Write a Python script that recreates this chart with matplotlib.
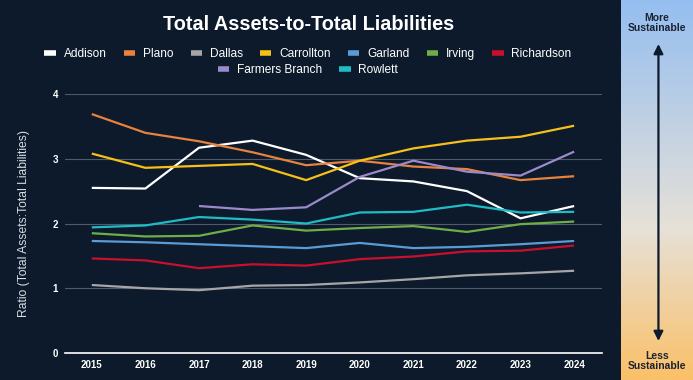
import numpy as np
import matplotlib.pyplot as plt
from matplotlib.colors import LinearSegmentedColormap

# data
years = [2015, 2016, 2017, 2018, 2019, 2020, 2021, 2022, 2023, 2024]

addison = [2.55, 2.54, 3.17, 3.28, 3.06, 2.70, 2.65, 2.50, 2.08, 2.27]
plano = [3.69, 3.40, 3.27, 3.10, 2.90, 2.97, 2.88, 2.84, 2.67, 2.73]
dallas = [1.05, 1.00, 0.97, 1.04, 1.05, 1.09, 1.14, 1.20, 1.23, 1.27]
carrollton = [3.08, 2.86, 2.89, 2.92, 2.67, 2.97, 3.16, 3.28, 3.34, 3.51]
garland = [1.73, 1.71, 1.68, 1.65, 1.62, 1.70, 1.62, 1.64, 1.68, 1.73]
irving = [1.85, 1.80, 1.81, 1.97, 1.89, 1.93, 1.96, 1.87, 1.99, 2.03]
richardson = [1.46, 1.43, 1.31, 1.37, 1.35, 1.45, 1.49, 1.57, 1.58, 1.66]
farmers_branch = [None, None, 2.27, 2.21, 2.25, 2.72, 2.97, 2.80, 2.74, 3.11]
rowlett = [1.94, 1.97, 2.10, 2.06, 2.00, 2.17, 2.18, 2.29, 2.17, 2.18]

series = [
    ("Addison", addison, "#ffffff"),
    ("Plano", plano, "#e8823c"),
    ("Dallas", dallas, "#a6a6a6"),
    ("Carrollton", carrollton, "#f5c018"),
    ("Garland", garland, "#5b9bd5"),
    ("Irving", irving, "#70ad47"),
    ("Richardson", richardson, "#c8102e"),
    ("Farmers Branch", farmers_branch, "#9b8ac9"),
    ("Rowlett", rowlett, "#1fbcc6"),
]

bg = "#0c1a2c"
W, H = 693, 380

fig = plt.figure(figsize=(W / 100, H / 100), dpi=100, facecolor=bg)
plt.rcParams['font.family'] = ['Liberation Sans', 'DejaVu Sans']

# -------------------------------------------------
# main plot
# -------------------------------------------------
ax = fig.add_axes([65 / W, 1 - 353 / H, (602 - 65) / W, (353 - 94) / H])
ax.set_facecolor(bg)

handles = []
for name, vals, col in series:
    y = np.array([np.nan if v is None else v for v in vals], dtype=float)
    h, = ax.plot(years, y, color=col, lw=1.6, label=name, solid_capstyle='butt')
    handles.append(h)

ax.set_xlim(2014.5, 2024.52)
ax.set_ylim(0, 4)
ax.set_xticks(years)
ax.set_yticks([0, 1, 2, 3, 4])
ax.tick_params(length=0, colors='white', labelsize=7)
for lab in ax.get_xticklabels() + ax.get_yticklabels():
    lab.set_fontweight('bold')
ax.tick_params(axis='y', pad=5)
ax.tick_params(axis='x', pad=5)
ax.grid(axis='y', color='#4f5b6b', lw=0.8)
ax.set_axisbelow(True)
for s in ['top', 'right', 'left']:
    ax.spines[s].set_visible(False)
ax.spines['bottom'].set_color('white')
ax.spines['bottom'].set_linewidth(1.2)
ax.set_ylabel("Ratio (Total Assets:Total Liabilities)", color='#d9dde3',
              fontsize=8.7, labelpad=16)

# title and legend
fig.text(309 / W, 1 - 24 / H, "Total Assets-to-Total Liabilities", color='white',
         fontsize=14.3, fontweight='bold', ha='center', va='center')

leg_kw = dict(frameon=False, labelcolor='white', fontsize=8.6, handlelength=0.95,
              handletextpad=0.65, columnspacing=1.45, loc='center')
leg1 = fig.legend(handles[:7], [s[0] for s in series[:7]], ncol=7,
                  bbox_to_anchor=(308 / W, 1 - 54 / H), **leg_kw)
for lh in leg1.legend_handles:
    lh.set_linewidth(4)
leg2 = fig.legend(handles[7:], [s[0] for s in series[7:]], ncol=2,
                  bbox_to_anchor=(308 / W, 1 - 70 / H), **leg_kw)
for lh in leg2.legend_handles:
    lh.set_linewidth(4)

# -------------------------------------------------
# sustainability gradient panel
# -------------------------------------------------
pan = fig.add_axes([621 / W, 0, (W - 621) / W, 1])
cmap = LinearSegmentedColormap.from_list(
    "sust", [(0.0, "#95bef0"), (0.6, "#e6e1d8"), (1.0, "#fbc068")])
grad = np.linspace(0, 1, 256).reshape(-1, 1)
pan.imshow(grad, aspect='auto', cmap=cmap, extent=[0, 1, 1, 0])
pan.set_xlim(0, 1)
pan.set_ylim(1, 0)
pan.axis('off')

pan.annotate("", xy=(0.52, 44 / H), xytext=(0.52, 341 / H),
             arrowprops=dict(arrowstyle='<|-|>', color=bg, lw=1.6,
                             mutation_scale=14, shrinkA=0, shrinkB=0))
pan.text(0.5, 23 / H, "More\nSustainable", color='#1a2333', fontsize=7.5,
         fontweight='bold', ha='center', va='center', linespacing=1.1)
pan.text(0.5, 361 / H, "Less\nSustainable", color='#1a2333', fontsize=7.5,
         fontweight='bold', ha='center', va='center', linespacing=1.1)

fig.savefig("out.png", dpi=100, facecolor=bg)
